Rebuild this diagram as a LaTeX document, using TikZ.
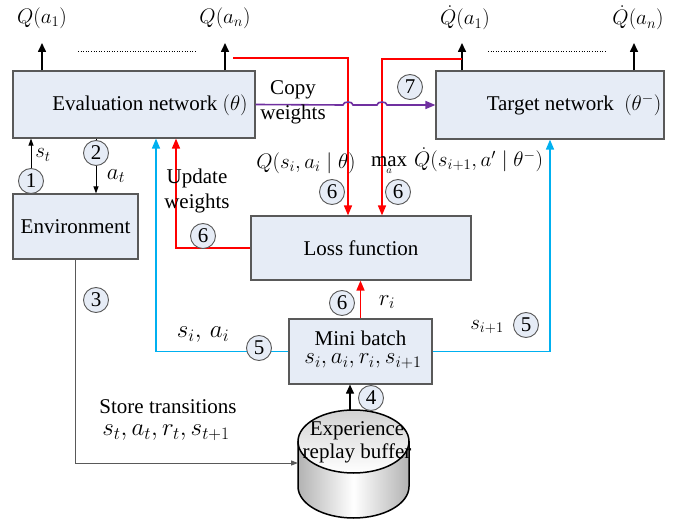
\RequirePackage{fix-cm}
\documentclass[tikz,border=0pt]{standalone}
\usepackage{fontspec}
\setmainfont{Liberation Serif}
\usetikzlibrary{arrows.meta,calc}
\definecolor{boxfill}{RGB}{230,236,246}
\definecolor{boxline}{RGB}{89,89,89}
\definecolor{flowred}{RGB}{255,0,0}
\definecolor{flowblue}{RGB}{0,176,240}
\definecolor{flowpurple}{RGB}{112,48,160}
\tikzset{
  block/.style={draw=boxline, line width=1.2pt, fill=boxfill, inner sep=0pt,
    font=\fontsize{21}{24}\selectfont},
  num/.style={circle, draw=boxline, line width=0.9pt, fill=boxfill,
    minimum size=25pt, inner sep=0pt, font=\fontsize{21}{22}\selectfont},
  lbl/.style={inner sep=0pt, align=center, font=\fontsize{21}{25}\selectfont},
  mth/.style={inner sep=0pt, font=\fontsize{21}{24}\selectfont},
  bigmth/.style={inner sep=0pt, font=\fontsize{25}{28}\selectfont},
  midmth/.style={inner sep=0pt, font=\fontsize{23}{26}\selectfont},
  outarrow/.style={draw=black, line width=1.6pt, -{Triangle[length=9pt,width=8pt]}},
  thinarrow/.style={draw=black, line width=1pt, -{Triangle[length=7pt,width=5pt]}},
  grayarrow/.style={draw=boxline, line width=1pt, -{Triangle[length=7pt,width=5pt]}},
  redarrow/.style={draw=flowred, line width=1.6pt, -{Triangle[length=10pt,width=8pt]}},
  bluearrow/.style={draw=flowblue, line width=1.6pt, -{Triangle[length=10pt,width=8pt]}},
  purplearrow/.style={draw=flowpurple, line width=1.6pt, -{Triangle[length=10pt,width=8pt]}},
  dotline/.style={draw=black, line width=1pt, dash pattern=on 1pt off 1.6pt},
}
\begin{document}
\begin{tikzpicture}[x=1pt,y=-1pt]
\useasboundingbox (0,0) rectangle (688,521);

% main blocks
\node[block, minimum width=242pt, minimum height=67pt] (eval) at (134,104.5) {};
\node[lbl] (evaltxt) at (150,105) {Evaluation network $(\theta)$};
\node[block, minimum width=228pt, minimum height=68pt] (target) at (550,105) {};
\node[lbl] (targettxt) at (574,105) {Target network\enspace$(\theta^-)$};
\node[block, minimum width=125pt, minimum height=65pt] (env) at (75.5,226.5) {Environment};
\node[block, minimum width=220pt, minimum height=64pt] (loss) at (361,248) {Loss function};
\node[block, minimum width=143pt, minimum height=65pt] (mini) at (360.5,351.5) {};
\node[lbl] (minitxt1) at (360.5,338) {Mini batch};
\node[midmth] (minitxt2) at (363,361) {$s_i, a_i, r_i, s_{i+1}$};

% experience replay buffer (cylinder)
\coordinate (buftop) at (350,410);
\coordinate (bufleft) at (298,463);
\path[left color=gray!60, right color=gray!60, middle color=white, draw=black, line width=1.5pt]
  (298,441.5) -- (298,486.5) .. controls (298,503.9) and (322.85,518) .. (353.5,518)
  .. controls (384.15,518) and (409,503.9) .. (409,486.5) -- (409,441.5) -- cycle;
\path[top color=gray!35, bottom color=white, draw=black, line width=1.5pt]
  (353.5,441.5) ellipse [x radius=55.5pt, y radius=31.5pt];
\node[lbl, font=\fontsize{21}{23}\selectfont] (buftxt) at (357,442) {Experience\\replay buffer};

% Q-value outputs
\coordinate (qa1tip) at (42,43);
\coordinate (qantip) at (225,43);
\coordinate (tq1tip) at (462,43);
\coordinate (tqntip) at (634,43);
\draw[outarrow] (eval.north -| qa1tip) -- (qa1tip);
\draw[outarrow] (eval.north -| qantip) -- (qantip);
\draw[outarrow] (target.north -| tq1tip) -- (tq1tip);
\draw[outarrow] (target.north -| tqntip) -- (tqntip);
\node[mth] (qa1) at (42,18) {$Q(a_1)$};
\node[mth] (qan) at (225,18) {$Q(a_n)$};
\node[mth] (tq1) at (465,18) {$\dot{Q}(a_1)$};
\node[mth] (tqn) at (638,18) {$\dot{Q}(a_n)$};
\coordinate (dotA) at (78,52);
\coordinate (dotB) at (197,52);
\coordinate (dotC) at (488,52);
\coordinate (dotD) at (607,52);
\draw[dotline] (dotA) -- (dotB);
\draw[dotline] (dotC) -- (dotD);

% step 6: Q values into the loss
\coordinate (r1s) at (233,58);
\coordinate (r1c) at (348,58);
\coordinate (r2s) at (462,59);
\coordinate (r2c) at (382,59);
\draw[redarrow] (r1s) -- (r1c) -- (r1c |- loss.north);
\draw[redarrow] (r2s) -- (r2c) -- (r2c |- loss.north);

% step 7: copy weights, hopping over the red lines
\draw[purplearrow] (eval.east) -- (343,105) .. controls (343,101) and (353,101) .. (353,105)
  -- (377,105) .. controls (377,101) and (387,101) .. (387,105) -- (target.west);
\node[lbl] (copytxt) at (293,102) {Copy\\weights};
\node[num] (n7) at (410,87) {7};

% steps 1 and 2
\coordinate (s1x) at (31,0);
\coordinate (s2x) at (96,0);
\draw[thinarrow] (env.north -| s1x) -- (eval.south -| s1x);
\draw[thinarrow] (eval.south -| s2x) -- (env.north -| s2x);
\node[num] (n1) at (31,181) {1};
\node[num] (n2) at (96,153) {2};
\node[mth] (st) at (43,155) {$s_t$};
\node[midmth] (at) at (116,176) {$a_t$};

% step 3: store transitions
\draw[grayarrow] (env.south) -- (env.south |- bufleft) -- (bufleft);
\node[num] (n3) at (96,300) {3};
\node[lbl] (storetxt) at (168,407) {Store transitions};
\node[bigmth] (storemath) at (166,433) {$s_t, a_t, r_t, s_{t+1}$};

% step 4: sample mini batch
\draw[outarrow, line width=1.2pt] (buftop) -- (buftop |- mini.south);
\node[num] (n4) at (371,398) {4};

% step 5: states to both networks
\coordinate (blx) at (156,0);
\coordinate (brx) at (550,0);
\draw[bluearrow] (mini.west) -- (mini.west -| blx) -- (eval.south -| blx);
\draw[bluearrow] (mini.east) -- (mini.east -| brx) -- (target.south -| brx);
\node[bigmth] (siai) at (203,335) {$s_i,\, a_i$};
\node[num] (n5a) at (259,348) {5};
\node[mth] (si1) at (487,327) {$s_{i+1}$};
\node[num] (n5b) at (526,325) {5};

% step 6: reward and update
\draw[redarrow] (mini.north) -- (mini.north |- loss.south);
\node[num] (n6d) at (342,303) {6};
\node[midmth] (ri) at (387,302) {$r_i$};
\coordinate (rlx) at (176,0);
\draw[redarrow] (loss.west) -- (loss.west -| rlx) -- (eval.south -| rlx);
\node[lbl] (updtxt) at (197,191) {Update\\weights};
\node[num] (n6a) at (203,236) {6};
\node[mth] (qeval) at (306,163) {$Q(s_i, a_i \mid \theta)$};
\node[mth] (qtarget) at (457,163) {$\mathop{\mathrm{max}}\limits_{\raisebox{4pt}{$\scriptscriptstyle a$}}\,\dot{Q}(s_{i+1}, a' \mid \theta^-)$};
\node[num] (n6b) at (332,192) {6};
\node[num] (n6c) at (398,192) {6};
\end{tikzpicture}
\end{document}
